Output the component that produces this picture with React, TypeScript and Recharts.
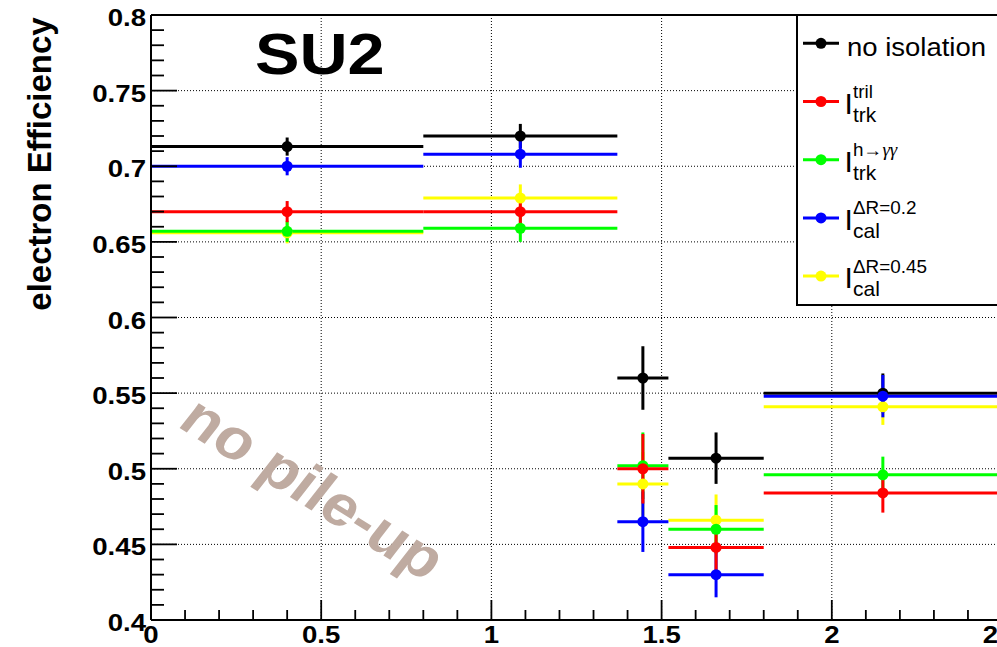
import {
  ComposedChart,
  Scatter,
  XAxis,
  YAxis,
  CartesianGrid,
  ErrorBar,
  ReferenceLine,
} from "recharts";

// eta bins
const BIN_LO = [0, 0.8, 1.37, 1.52, 1.8];
const BIN_HI = [0.8, 1.37, 1.52, 1.8, 2.5];

// efficiencies per isolation type
const NO_ISO = [0.713, 0.72, 0.56, 0.507, 0.55];
const NO_ISO_ERR = [0.006, 0.008, 0.021, 0.017, 0.013];
const TRIL = [0.67, 0.67, 0.5, 0.448, 0.484];
const TRIL_ERR = [0.007, 0.009, 0.023, 0.017, 0.013];
const HGG = [0.657, 0.659, 0.502, 0.46, 0.496];
const HGG_ERR = [0.007, 0.009, 0.022, 0.016, 0.012];
const CAL02 = [0.7, 0.708, 0.465, 0.43, 0.548];
const CAL02_ERR = [0.006, 0.009, 0.02, 0.015, 0.014];
const CAL045 = [0.656, 0.679, 0.49, 0.466, 0.541];
const CAL045_ERR = [0.007, 0.009, 0.021, 0.017, 0.012];

const X_LABELS = [0, 0.5, 1, 1.5, 2, 2.5];
const Y_LABELS = [0.4, 0.45, 0.5, 0.55, 0.6, 0.65, 0.7, 0.75, 0.8];
const X_GRID = [0.5, 1, 1.5, 2];
const Y_GRID = [0.45, 0.5, 0.55, 0.6, 0.65, 0.7, 0.75];

const FONT = "'Liberation Sans', Arial, Helvetica, sans-serif";
const STRETCH = 1.15;

function steps(lo: number, hi: number, step: number) {
  const out: number[] = [];
  for (let i = 0; lo + i * step <= hi + 1e-9; i++) out.push(+(lo + i * step).toFixed(3));
  return out;
}
const X_TICKS = steps(0, 2.5, 0.1);
const Y_TICKS = steps(0.4, 0.8, 0.01);

const isMajor = (v: number, labels: number[]) => labels.some((l) => Math.abs(l - v) < 1e-6);

function binPoints(values: number[], errs: number[]) {
  return values.map((y, i) => ({
    x: (BIN_LO[i] + BIN_HI[i]) / 2,
    y,
    ex: (BIN_HI[i] - BIN_LO[i]) / 2,
    ey: errs[i],
  }));
}

// draw order: black underneath, red on top
const SERIES = [
  { key: "noiso", color: "#000000", data: binPoints(NO_ISO, NO_ISO_ERR) },
  { key: "cal045", color: "#ffff00", data: binPoints(CAL045, CAL045_ERR) },
  { key: "hgg", color: "#00ff00", data: binPoints(HGG, HGG_ERR) },
  { key: "cal02", color: "#0000ff", data: binPoints(CAL02, CAL02_ERR) },
  { key: "tril", color: "#ff0000", data: binPoints(TRIL, TRIL_ERR) },
];

const LEGEND = [
  { color: "#000000", text: "no isolation" },
  { color: "#ff0000", sup: "tril", sub: "trk" },
  { color: "#00ff00", sup: "h→", supSym: "γγ", sub: "trk" },
  { color: "#0000ff", sup: "ΔR=0.2", sub: "cal" },
  { color: "#ffff00", sup: "ΔR=0.45", sub: "cal" },
];

// ticks point into the frame, ROOT style
function YTick(props: any) {
  const { x, y, payload } = props;
  const v = payload.value;
  const major = isMajor(v, Y_LABELS);
  const ax = x + 5;
  return (
    <g>
      <path d={`M${ax},${y}H${ax + (major ? 26 : 13)}`} stroke="#000" strokeWidth={1.8} fill="none" />
      {major && (
        <text
          transform={`translate(${x},${y + 11}) scale(${STRETCH},1)`}
          textAnchor="end"
          fontSize={24}
          fontWeight="bold"
          fontFamily={FONT}
          fill="#000"
        >
          {String(v)}
        </text>
      )}
    </g>
  );
}

function XTick(props: any) {
  const { x, y, payload } = props;
  const v = payload.value;
  const major = isMajor(v, X_LABELS);
  return (
    <g>
      <path d={`M${x},${y}V${y - (major ? 20 : 10)}`} stroke="#000" strokeWidth={1.8} fill="none" />
      {major && (
        <text
          transform={`translate(${x},${y + 23}) scale(${STRETCH},1)`}
          textAnchor="middle"
          fontSize={24}
          fontWeight="bold"
          fontFamily={FONT}
          fill="#000"
        >
          {String(v)}
        </text>
      )}
    </g>
  );
}

function Dot(color: string) {
  return (p: any) => <circle cx={p.cx} cy={p.cy} r={5.5} fill={color} />;
}

function LegendBox() {
  return (
    <g fontFamily={FONT}>
      <rect x={797} y={15} width={230} height={290} fill="#fff" stroke="#000" strokeWidth={2} />
      {LEGEND.map((e, i) => {
        const c = 43.3 + i * 58.2;
        return (
          <g key={i}>
            <line x1={803} x2={839} y1={c} y2={c} stroke={e.color} strokeWidth={3} />
            <circle cx={821} cy={c} r={5.5} fill={e.color} />
            {e.text ? (
              <text transform={`translate(847,${c + 13}) scale(1.1,1)`} fontSize={25} fill="#000">
                {e.text}
              </text>
            ) : (
              <>
                <text x={844.5} y={c + 12} fontSize={30} fill="#000">
                  I
                </text>
                <text transform={`translate(853,${c - 3.5}) scale(1.05,1)`} fontSize={18} fill="#000">
                  {e.sup}
                  {e.supSym && (
                    <tspan fontFamily="'Liberation Serif', serif" fontStyle="italic">
                      {e.supSym}
                    </tspan>
                  )}
                </text>
                <text transform={`translate(853,${c + 20}) scale(1.05,1)`} fontSize={20} fill="#000">
                  {e.sub}
                </text>
              </>
            )}
          </g>
        );
      })}
    </g>
  );
}

function Labels() {
  return (
    <g fontFamily={FONT} fontWeight="bold">
      <text transform="translate(51,164) rotate(-90)" textAnchor="middle" fontSize={33} fill="#000">
        electron Efficiency
      </text>
      <text transform="translate(255,74) scale(1.17,1)" fontSize={57} fill="#000">
        SU2
      </text>
      <text
        transform="translate(314,487) scale(1.12,1) rotate(35)"
        textAnchor="middle"
        dy="0.36em"
        fontSize={57}
        fill="#bfaba1"
      >
        no pile-up
      </text>
    </g>
  );
}

export default function App() {
  return (
    <div
      style={{
        position: "fixed",
        left: 0,
        top: 0,
        width: 997,
        height: 647,
        overflow: "hidden",
        background: "#fff",
      }}
    >
      <ComposedChart width={1010} height={647} margin={{ top: 15, right: 8, bottom: 0, left: 0 }}>
        <CartesianGrid
          horizontalValues={Y_GRID}
          verticalValues={X_GRID}
          stroke="#000"
          strokeWidth={1}
          strokeDasharray="1 2"
        />
        <XAxis
          type="number"
          dataKey="x"
          domain={[0, 2.5]}
          ticks={X_TICKS}
          interval={0}
          tickSize={0}
          tickMargin={0}
          height={27}
          tick={<XTick />}
          tickLine={false}
          axisLine={{ stroke: "#000", strokeWidth: 2 }}
          allowDataOverflow
        />
        <YAxis
          type="number"
          dataKey="y"
          domain={[0.4, 0.8]}
          ticks={Y_TICKS}
          interval={0}
          tickSize={0}
          tickMargin={5}
          width={151}
          tick={<YTick />}
          tickLine={false}
          axisLine={{ stroke: "#000", strokeWidth: 2 }}
          allowDataOverflow
        />
        <ReferenceLine y={0.8} stroke="#000" strokeWidth={2} />
        {SERIES.map((s) => (
          <Scatter
            key={s.key}
            name={s.key}
            data={s.data}
            fill={s.color}
            shape={Dot(s.color)}
            isAnimationActive={false}
          >
            <ErrorBar dataKey="ex" direction="x" width={0} stroke={s.color} strokeWidth={3} isAnimationActive={false} />
            <ErrorBar dataKey="ey" direction="y" width={0} stroke={s.color} strokeWidth={3} isAnimationActive={false} />
          </Scatter>
        ))}
        <Labels />
        <LegendBox />
      </ComposedChart>
    </div>
  );
}
